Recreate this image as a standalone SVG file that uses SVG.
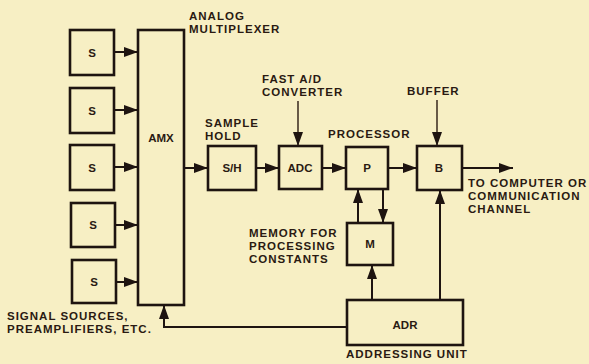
<svg xmlns="http://www.w3.org/2000/svg" width="589" height="364" viewBox="0 0 589 364">
<defs>
<marker id="ah" viewBox="0 0 14 10" refX="14" refY="5" markerWidth="14" markerHeight="10" markerUnits="userSpaceOnUse" orient="auto">
<path d="M0,0 L14,5 L0,10 Z" fill="#1e1410"/>
</marker>
<style>
.box{fill:none;stroke:#1e1410;stroke-width:2.6}
.ln{fill:none;stroke:#1e1410;stroke-width:2}
.thin{fill:none;stroke:#2a1a12;stroke-width:1.4}
text{font-family:"Liberation Sans",Arial,sans-serif;font-weight:bold;fill:#2a1a12}
.lb{font-size:11.5px;letter-spacing:1px}
.in{font-size:11.5px;text-anchor:middle}
</style>
</defs>
<rect width="589" height="364" fill="#f7efc4"/>
<g id="s1"><rect class="box" x="70" y="30" width="44" height="45"/><text class="in" x="92" y="57">S</text></g>
<g id="s2"><rect class="box" x="70" y="88" width="44" height="45"/><text class="in" x="92" y="115">S</text></g>
<g id="s3"><rect class="box" x="70" y="145" width="44" height="45"/><text class="in" x="92" y="172">S</text></g>
<g id="s4"><rect class="box" x="71" y="203" width="44" height="44"/><text class="in" x="93" y="229">S</text></g>
<g id="s5"><rect class="box" x="72" y="260" width="44" height="43"/><text class="in" x="94" y="286">S</text></g>
<g id="amx"><rect class="box" x="138" y="30" width="46" height="275"/><text class="in" x="161" y="142">AMX</text>
<text class="lb" x="189" y="20">ANALOG</text><text class="lb" x="189" y="33">MULTIPLEXER</text></g>
<g id="sh"><rect class="box" x="208" y="146" width="48" height="44"/><text class="in" x="232" y="172">S/H</text>
<text class="lb" x="205" y="127">SAMPLE</text><text class="lb" x="205" y="140">HOLD</text></g>
<g id="adc"><rect class="box" x="279" y="146" width="43" height="43"/><text class="in" x="300" y="172">ADC</text>
<text class="lb" x="262" y="83">FAST A/D</text><text class="lb" x="262" y="96">CONVERTER</text></g>
<g id="p"><rect class="box" x="346" y="147" width="42" height="42"/><text class="in" x="367" y="172">P</text>
<text class="lb" x="328" y="138">PROCESSOR</text></g>
<g id="b"><rect class="box" x="417" y="146" width="45" height="44"/><text class="in" x="439" y="172">B</text>
<text class="lb" x="407" y="95">BUFFER</text></g>
<g id="m"><rect class="box" x="347" y="223" width="46" height="42"/><text class="in" x="370" y="248" font-size="10">M</text>
<text class="lb" x="249" y="237">MEMORY FOR</text><text class="lb" x="249" y="250">PROCESSING</text><text class="lb" x="249" y="263">CONSTANTS</text></g>
<g id="adr"><rect class="box" x="347" y="300" width="116" height="45"/><text class="in" x="405" y="329">ADR</text>
<text class="lb" x="346" y="358">ADDRESSING UNIT</text></g>
<g id="labels">
<text class="lb" x="468" y="187">TO COMPUTER OR</text><text class="lb" x="468" y="200">COMMUNICATION</text><text class="lb" x="468" y="213">CHANNEL</text>
<text class="lb" x="7" y="320">SIGNAL SOURCES,</text><text class="lb" x="7" y="333">PREAMPLIFIERS, ETC.</text>
</g>
<g id="connectors">
<line class="ln" x1="114" y1="52" x2="138" y2="52" marker-end="url(#ah)"/>
<line class="ln" x1="114" y1="110" x2="138" y2="110" marker-end="url(#ah)"/>
<line class="ln" x1="114" y1="167" x2="138" y2="167" marker-end="url(#ah)"/>
<line class="ln" x1="115" y1="225" x2="138" y2="225" marker-end="url(#ah)"/>
<line class="ln" x1="116" y1="282" x2="138" y2="282" marker-end="url(#ah)"/>
<line class="ln" x1="184" y1="168" x2="208" y2="168" marker-end="url(#ah)"/>
<line class="ln" x1="256" y1="168" x2="279" y2="168" marker-end="url(#ah)"/>
<line class="ln" x1="322" y1="168" x2="346" y2="168" marker-end="url(#ah)"/>
<line class="ln" x1="388" y1="168" x2="417" y2="168" marker-end="url(#ah)"/>
<line class="ln" x1="462" y1="168" x2="513" y2="168" marker-end="url(#ah)"/>
<line class="thin" x1="298" y1="101" x2="298" y2="146" marker-end="url(#ah)"/>
<line class="thin" x1="437" y1="100" x2="437" y2="146" marker-end="url(#ah)"/>
<line class="ln" x1="358" y1="223" x2="358" y2="189" marker-end="url(#ah)"/>
<line class="ln" x1="383" y1="189" x2="383" y2="223" marker-end="url(#ah)"/>
<line class="ln" x1="372" y1="300" x2="372" y2="265" marker-end="url(#ah)"/>
<line class="ln" x1="440" y1="300" x2="440" y2="190" marker-end="url(#ah)"/>
<polyline class="ln" points="347,327 164,327 164,305" marker-end="url(#ah)"/>
</g>
</svg>
